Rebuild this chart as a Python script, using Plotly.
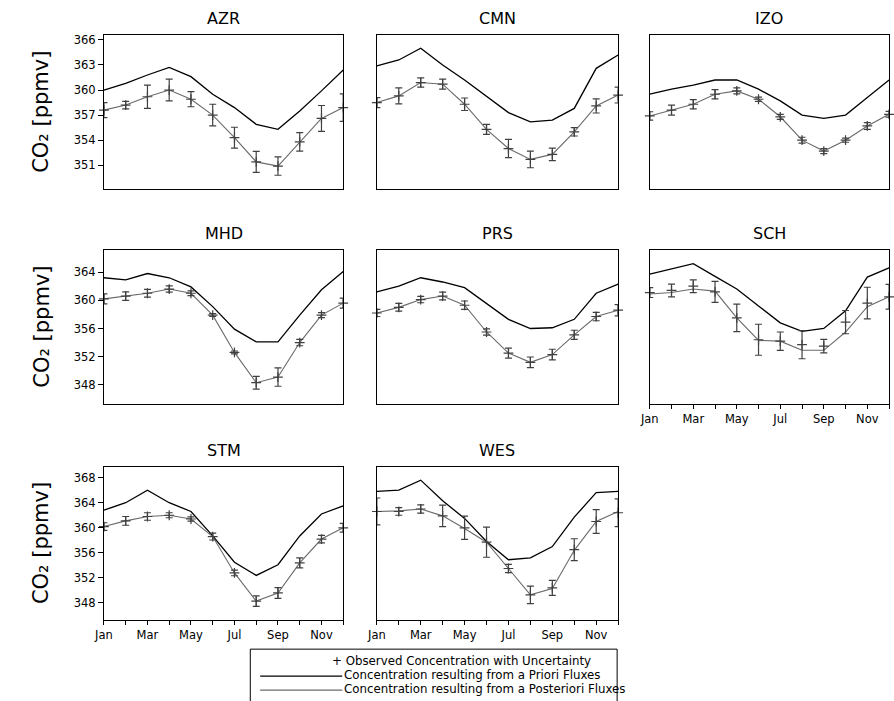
import plotly.graph_objects as go

# ---------------- data ----------------
months = ["Jan", "Feb", "Mar", "Apr", "May", "Jun", "Jul", "Aug", "Sep", "Oct", "Nov", "Dec"]
month_idx = list(range(12))
label_months = [0, 2, 4, 6, 8, 10]
tick_labels = ["Jan", "Mar", "May", "Jul", "Sep", "Nov"]
minor_months = [1, 3, 5, 7, 9, 11]

stations = ["AZR", "CMN", "IZO", "MHD", "PRS", "SCH", "STM", "WES"]

AZR_prior = [360.0, 360.8, 361.8, 362.7, 361.6, 359.5, 357.9, 355.9, 355.3, 357.5, 359.9, 362.4]
AZR_post = [357.6, 358.2, 359.2, 360.0, 358.9, 357.0, 354.3, 351.4, 350.9, 353.8, 356.6, 357.9]
AZR_obs = [357.6, 358.2, 359.2, 360.0, 358.9, 357.0, 354.3, 351.4, 350.9, 353.8, 356.6, 357.9]
AZR_err = [0.9, 0.45, 1.4, 1.3, 0.9, 1.3, 1.25, 1.25, 1.1, 1.1, 1.55, 1.65]

CMN_prior = [362.9, 363.6, 365.0, 363.0, 361.2, 359.3, 357.3, 356.2, 356.4, 357.8, 362.6, 364.2]
CMN_post = [358.5, 359.3, 360.9, 360.7, 358.3, 355.3, 353.0, 351.7, 352.3, 355.0, 358.1, 359.4]
CMN_obs = [358.5, 359.3, 360.9, 360.7, 358.3, 355.3, 353.0, 351.7, 352.3, 355.0, 358.1, 359.4]
CMN_err = [0.6, 0.95, 0.55, 0.6, 0.75, 0.6, 1.1, 1.0, 0.75, 0.5, 0.85, 0.95]

IZO_prior = [359.5, 360.1, 360.6, 361.2, 361.2, 360.1, 358.7, 357.0, 356.6, 357.0, 359.1, 361.2]
IZO_post = [356.9, 357.6, 358.3, 359.5, 359.9, 358.9, 356.8, 354.0, 352.7, 354.0, 355.7, 357.1]
IZO_obs = [356.9, 357.6, 358.3, 359.5, 359.9, 358.9, 356.8, 354.0, 352.7, 354.0, 355.7, 357.1]
IZO_err = [0.5, 0.6, 0.55, 0.55, 0.35, 0.25, 0.3, 0.35, 0.3, 0.25, 0.4, 0.35]

MHD_prior = [363.2, 362.9, 363.8, 363.2, 361.9, 359.1, 355.9, 354.1, 354.1, 357.9, 361.5, 364.1]
MHD_post = [360.2, 360.6, 361.0, 361.6, 361.0, 357.9, 352.6, 348.3, 349.1, 354.0, 357.9, 359.6]
MHD_obs = [360.2, 360.6, 361.0, 361.6, 361.0, 357.9, 352.6, 348.3, 349.1, 354.0, 357.9, 359.6]
MHD_err = [0.7, 0.6, 0.55, 0.45, 0.35, 0.2, 0.2, 0.9, 1.3, 0.45, 0.35, 0.7]

PRS_prior = [361.2, 362.0, 363.2, 362.6, 361.8, 359.6, 357.3, 356.0, 356.1, 357.3, 361.0, 362.3]
PRS_post = [358.2, 359.0, 360.1, 360.6, 359.3, 355.5, 352.5, 351.2, 352.3, 355.1, 357.7, 358.6]
PRS_obs = [358.2, 359.0, 360.1, 360.6, 359.3, 355.5, 352.5, 351.2, 352.3, 355.1, 357.7, 358.6]
PRS_err = [0.5, 0.55, 0.45, 0.55, 0.6, 0.45, 0.7, 0.75, 0.75, 0.65, 0.6, 0.8]

SCH_prior = [363.7, 364.4, 365.2, 363.4, 361.6, 359.2, 356.8, 355.6, 356.0, 358.5, 363.3, 364.6]
SCH_post = [360.9, 361.1, 361.6, 361.3, 357.5, 354.3, 354.2, 352.9, 352.9, 355.5, 359.1, 360.5]
SCH_obs = [361.1, 361.4, 362.0, 361.2, 357.5, 354.4, 354.2, 353.7, 353.5, 356.9, 359.6, 360.5]
SCH_err = [0.7, 0.9, 0.9, 1.5, 1.95, 2.2, 1.3, 2.0, 0.95, 1.65, 2.25, 1.75]

STM_prior = [362.8, 364.0, 366.0, 364.0, 362.6, 358.7, 354.5, 352.4, 354.1, 358.7, 362.2, 363.5]
STM_post = [360.2, 361.1, 361.8, 362.0, 361.4, 358.6, 352.8, 348.3, 349.6, 354.4, 358.2, 360.0]
STM_obs = [360.2, 361.1, 361.8, 362.0, 361.4, 358.6, 352.8, 348.3, 349.6, 354.4, 358.2, 360.0]
STM_err = [0.6, 0.7, 0.6, 0.4, 0.35, 0.55, 0.45, 0.85, 0.85, 0.8, 0.6, 0.7]

WES_prior = [365.8, 366.0, 367.6, 364.3, 361.5, 357.8, 354.9, 355.2, 357.0, 361.7, 365.6, 365.8]
WES_post = [362.6, 362.7, 363.0, 361.9, 359.9, 357.7, 353.5, 349.3, 350.3, 356.4, 361.0, 362.6]
WES_obs = [362.6, 362.6, 363.0, 361.9, 360.0, 357.7, 353.5, 349.3, 350.4, 356.5, 361.0, 362.4]
WES_err = [2.15, 0.6, 0.65, 1.7, 1.85, 2.4, 0.65, 1.4, 1.2, 1.75, 1.9, 2.2]

row_ranges = [[348.1, 366.6], [345.3, 367.1], [345.25, 369.75]]
row_tick0 = [351, 348, 348]
row_dtick = [3, 4, 4]

legend_labels = [
    "+ Observed Concentration with Uncertainty",
    "Concentration resulting from a Priori Fluxes",
    "Concentration resulting from a Posteriori Fluxes",
]
y_title = "CO\u2082 [ppmv]"

# ---------------- layout geometry (pixels) ----------------
W, H = 894, 701
col_px = [(95, 337), (371, 615), (647, 889)]
row_px = [(33, 188), (249, 403), (466, 620)]

panels = [
    ("AZR", 0, 0, AZR_prior, AZR_post, AZR_obs, AZR_err),
    ("CMN", 0, 1, CMN_prior, CMN_post, CMN_obs, CMN_err),
    ("IZO", 0, 2, IZO_prior, IZO_post, IZO_obs, IZO_err),
    ("MHD", 1, 0, MHD_prior, MHD_post, MHD_obs, MHD_err),
    ("PRS", 1, 1, PRS_prior, PRS_post, PRS_obs, PRS_err),
    ("SCH", 1, 2, SCH_prior, SCH_post, SCH_obs, SCH_err),
    ("STM", 2, 0, STM_prior, STM_post, STM_obs, STM_err),
    ("WES", 2, 1, WES_prior, WES_post, WES_obs, WES_err),
]
bottom_panels = {"SCH", "STM", "WES"}

PRIOR_COLOR = "#000000"
POST_COLOR = "#6a6a6a"
OBS_COLOR = "#404040"
TICK_FONT = dict(family="DejaVu Sans", size=11.5, color="#000000")

fig = go.Figure()
layout = dict(
    width=W, height=H,
    margin=dict(l=0, r=0, t=0, b=0),
    paper_bgcolor="white", plot_bgcolor="white",
    showlegend=False,
)
annotations = []
shapes = []


def px_x(x):
    return x / W


def px_y(y):
    return 1 - y / H


for i, (name, r, c, prior, post, obs, err) in enumerate(panels):
    n = i + 1
    xa = "x" if n == 1 else f"x{n}"
    ya = "y" if n == 1 else f"y{n}"
    xkey = "xaxis" if n == 1 else f"xaxis{n}"
    ykey = "yaxis" if n == 1 else f"yaxis{n}"
    x0, x1 = col_px[c]
    y0, y1 = row_px[r]

    fig.add_trace(go.Scatter(
        x=month_idx, y=prior, xaxis=xa, yaxis=ya, mode="lines",
        line=dict(color=PRIOR_COLOR, width=1.3), hoverinfo="skip", cliponaxis=False,
    ))
    fig.add_trace(go.Scatter(
        x=month_idx, y=post, xaxis=xa, yaxis=ya, mode="lines",
        line=dict(color=POST_COLOR, width=1.1), hoverinfo="skip", cliponaxis=False,
    ))
    fig.add_trace(go.Scatter(
        x=month_idx, y=obs, xaxis=xa, yaxis=ya, mode="markers",
        marker=dict(symbol="cross-thin", size=7, line=dict(color=OBS_COLOR, width=1.2)),
        error_y=dict(type="data", array=err, visible=True, color=OBS_COLOR,
                     thickness=1.2, width=3.5),
        hoverinfo="skip", cliponaxis=False,
    ))

    is_bottom = name in bottom_panels
    xdict = dict(
        domain=[px_x(x0), px_x(x1)], range=[0, 11], anchor=ya,
        showgrid=False, zeroline=False,
        showline=True, mirror=True, linecolor="black", linewidth=1,
        fixedrange=True,
    )
    if is_bottom:
        xdict.update(
            tickmode="array", tickvals=label_months, ticktext=tick_labels,
            ticks="outside", ticklen=4, tickcolor="black", tickwidth=1,
            showticklabels=True, tickfont=TICK_FONT,
            minor=dict(tickmode="array", tickvals=minor_months, ticks="outside",
                       ticklen=4, tickcolor="black", tickwidth=1, showgrid=False),
        )
    else:
        xdict.update(tickmode="array", tickvals=[], ticks="", showticklabels=False)
    layout[xkey] = xdict

    ydict = dict(
        domain=[px_y(y1), px_y(y0)], range=row_ranges[r], anchor=xa,
        showgrid=False, zeroline=False,
        showline=True, mirror=True, linecolor="black", linewidth=1,
        fixedrange=True,
    )
    if c == 0:
        ydict.update(tickmode="linear", tick0=row_tick0[r], dtick=row_dtick[r],
                     ticks="outside", ticklen=5, tickcolor="black",
                     showticklabels=True, tickfont=TICK_FONT)
    else:
        ydict.update(tickmode="array", tickvals=[], ticks="", showticklabels=False)
    layout[ykey] = ydict

    # panel title
    annotations.append(dict(
        text=name, x=px_x((x0 + x1) / 2), y=px_y(y0 - 5), xref="paper", yref="paper",
        xanchor="center", yanchor="bottom", showarrow=False,
        font=dict(family="DejaVu Sans", size=16, color="black"),
    ))
    # y axis title on first column
    if c == 0:
        annotations.append(dict(
            text=y_title, x=px_x(32), y=px_y((y0 + y1) / 2), xref="paper", yref="paper",
            xanchor="center", yanchor="middle", textangle=-90, showarrow=False,
            font=dict(family="DejaVu Sans", size=21, color="black"),
        ))

# ---------------- legend box ----------------
shapes.append(dict(type="rect", xref="paper", yref="paper",
                   x0=px_x(243), x1=px_x(614), y0=px_y(720), y1=px_y(649),
                   line=dict(color="black", width=1), fillcolor="rgba(0,0,0,0)"))
shapes.append(dict(type="line", xref="paper", yref="paper",
                   x0=px_x(253), x1=px_x(336), y0=px_y(676), y1=px_y(676),
                   line=dict(color=PRIOR_COLOR, width=1.3)))
shapes.append(dict(type="line", xref="paper", yref="paper",
                   x0=px_x(253), x1=px_x(336), y0=px_y(690), y1=px_y(690),
                   line=dict(color=POST_COLOR, width=1.3)))
leg_pos = [(324, 661), (336, 675), (336, 689)]
for label, (lx, ly) in zip(legend_labels, leg_pos):
    annotations.append(dict(
        text=label, x=px_x(lx), y=px_y(ly), xref="paper", yref="paper",
        xanchor="left", yanchor="middle", showarrow=False,
        font=dict(family="DejaVu Sans", size=11.8, color="black"),
    ))

layout["annotations"] = annotations
layout["shapes"] = shapes
fig.update_layout(**layout)
fig.write_html(
    "out.html",
    config={"displayModeBar": False},
    post_script="document.body.style.margin='0px';document.body.style.overflow='hidden';",
)
